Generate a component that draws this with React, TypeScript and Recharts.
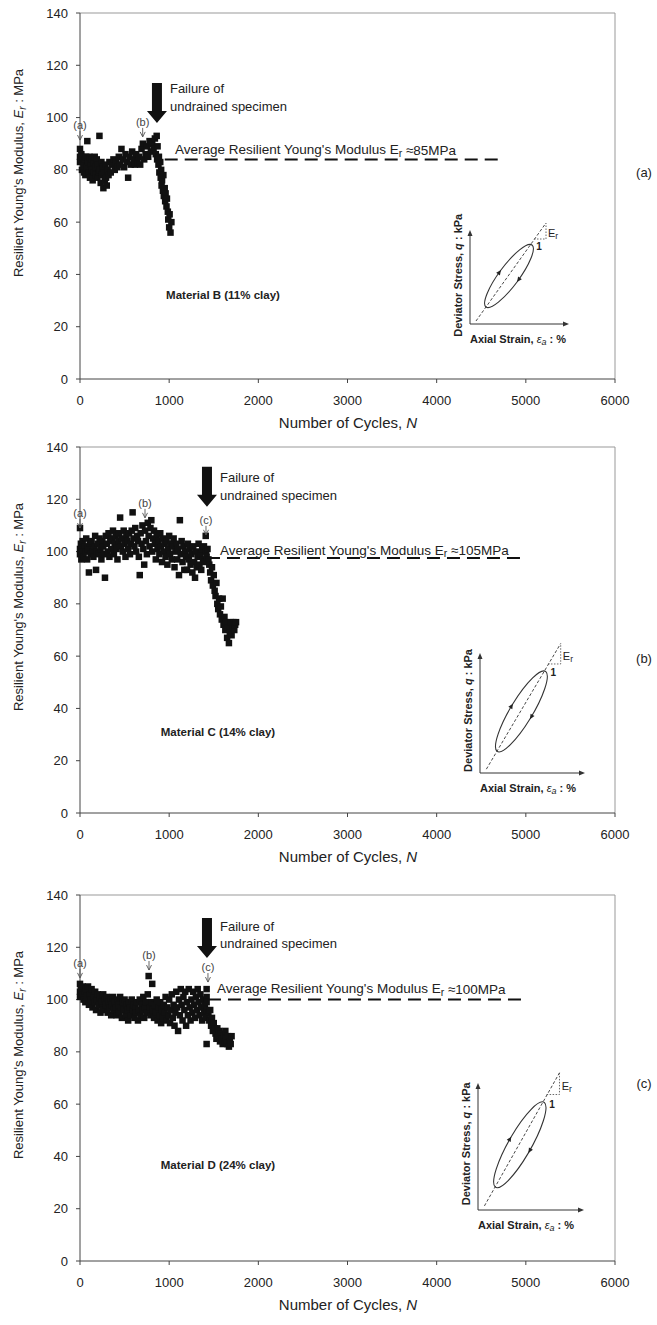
import React from 'react';
import { ScatterChart, Scatter, XAxis, YAxis, ReferenceLine, ReferenceDot } from 'recharts';

const FONT = '"Liberation Sans", Arial, Helvetica, sans-serif';
const W = 657;
const H = 434;

const xTicks = [0, 1000, 2000, 3000, 4000, 5000, 6000];
const yTicks = [0, 20, 40, 60, 80, 100, 120, 140];

// Material B (11% clay)
const cyclesB = [
  0, 0, 0, 8, 15, 22, 30, 38, 45, 52, 60, 68, 75, 82, 90, 98, 105, 112, 120, 128, 135, 142, 150, 158, 165, 172,
  180, 188, 195, 202, 210, 218, 225, 232, 240, 248, 255, 262, 270, 278, 285, 292, 300, 310, 320, 330, 345, 360,
  375, 390, 405, 420, 435, 450, 465, 480, 495, 510, 525, 540, 555, 570, 585, 600, 615, 630, 645, 660, 675, 690,
  705, 720, 735, 750, 765, 780, 795, 810, 825, 840, 850, 860, 865, 870, 880, 885, 890, 900, 905, 910, 915, 920,
  930, 935, 940, 950, 955, 960, 970, 975, 985, 990, 1000, 1005, 1015, 1025,
];
const modulusB = [
  88, 85, 83, 84, 86, 80, 85, 82, 79, 84, 78, 85, 81, 91, 83, 79, 85, 77, 82, 84, 80, 76, 83, 79, 85, 81,
  78, 84, 77, 82, 79, 93, 80, 75, 83, 78, 81, 73, 79, 76, 82, 77, 74, 80, 78, 83, 79, 82,
  84, 80, 83, 81, 85, 82, 88, 84, 81, 86, 83, 77, 85, 82, 87, 84, 82, 86, 83, 85, 82, 88,
  90, 84, 86, 89, 85, 91, 87, 90, 88, 92, 86, 93, 84, 89, 82, 85, 79, 83, 77, 80, 74, 76,
  72, 78, 70, 73, 68, 71, 66, 69, 64, 61, 58, 63, 56, 60,
];

// Material C (14% clay)
const cyclesC = [
  0, 0, 0, 10, 15, 20, 30, 40, 50, 60, 70, 80, 90, 100, 110, 120, 130, 140, 150, 160, 170, 180, 190, 200, 210,
  220, 230, 240, 250, 260, 270, 280, 290, 300, 310, 320, 330, 340, 350, 360, 370, 380, 390, 400, 410, 420, 430,
  440, 450, 460, 470, 480, 490, 500, 510, 520, 530, 540, 550, 560, 570, 580, 590, 600, 610, 620, 630, 640, 650,
  660, 670, 680, 690, 700, 710, 720, 730, 740, 750, 760, 770, 780, 790, 800, 810, 820, 830, 840, 850, 860, 870,
  880, 890, 900, 910, 920, 930, 940, 950, 960, 970, 980, 990, 1000, 1010, 1020, 1030, 1040, 1050, 1060, 1070,
  1080, 1090, 1100, 1110, 1120, 1130, 1140, 1150, 1160, 1170, 1180, 1190, 1200, 1210, 1220, 1230, 1240, 1250,
  1260, 1270, 1280, 1290, 1300, 1310, 1320, 1330, 1340, 1350, 1360, 1370, 1380, 1390, 1400, 1410, 1415, 1420,
  1430, 1440, 1450, 1460, 1470, 1480, 1490, 1500, 1510, 1520, 1530, 1540, 1550, 1560, 1570, 1580, 1590, 1600,
  1610, 1620, 1630, 1640, 1650, 1660, 1670, 1680, 1690, 1700, 1710, 1720, 1730, 1740, 1750,
];
const modulusC = [
  109, 101, 99, 103, 97, 100, 104, 98, 102, 100, 105, 97, 101, 92, 103, 99, 104, 100, 98, 102, 106, 93, 100, 103, 99,
  105, 101, 97, 104, 102, 99, 90, 106, 103, 100, 107, 98, 104, 101, 105, 108, 99, 103, 106, 101, 97, 104,
  107, 113, 102, 105, 100, 108, 103, 98, 106, 104, 101, 107, 99, 103, 108, 115, 105, 102, 109, 100, 106, 104,
  98, 91, 107, 103, 110, 101, 95, 108, 104, 99, 111, 106, 102, 109, 112, 100, 105, 108, 103, 97, 106, 101,
  104, 99, 107, 102, 96, 105, 100, 103, 98, 104, 95, 101, 106, 99, 103, 97, 102, 105, 94, 100,
  103, 97, 101, 91, 112, 99, 104, 96, 102, 93, 100, 98, 93, 103, 97, 101, 95, 99,
  92, 102, 96, 90, 100, 94, 98, 103, 95, 99, 93, 101, 97, 102, 96, 106, 100, 98,
  101, 97, 95, 92, 89, 94, 87, 91, 85, 83, 88, 80, 78, 82, 76, 79, 74, 82,
  72, 75, 70, 73, 67, 71, 65, 69, 73, 68, 71, 73, 70, 72, 73,
];

// Material D (24% clay)
const cyclesD = [
  0, 0, 0, 10, 20, 30, 40, 50, 60, 70, 80, 90, 100, 110, 120, 130, 140, 150, 160, 170, 180, 190, 200, 210, 220,
  230, 240, 250, 260, 270, 280, 290, 300, 310, 320, 330, 340, 350, 360, 370, 380, 390, 400, 410, 420, 430, 440,
  450, 460, 470, 480, 490, 500, 510, 520, 530, 540, 550, 560, 570, 580, 590, 600, 610, 620, 630, 640, 650, 660,
  670, 680, 690, 700, 710, 720, 730, 740, 750, 760, 770, 780, 790, 800, 810, 820, 830, 840, 850, 860, 870, 880,
  890, 900, 910, 920, 930, 940, 950, 960, 970, 980, 990, 1000, 1010, 1020, 1030, 1040, 1050, 1060, 1070, 1080,
  1090, 1100, 1110, 1120, 1130, 1140, 1150, 1160, 1170, 1180, 1190, 1200, 1210, 1220, 1230, 1240, 1250, 1260,
  1270, 1280, 1290, 1300, 1310, 1320, 1330, 1340, 1350, 1360, 1370, 1380, 1390, 1400, 1410, 1420, 1420, 1420,
  1420, 1420, 1440, 1450, 1460, 1470, 1480, 1490, 1500, 1510, 1520, 1530, 1540, 1550, 1560, 1570, 1580, 1590,
  1600, 1610, 1620, 1630, 1640, 1650, 1660, 1670, 1680, 1690, 1700,
];
const modulusD = [
  106, 103, 101, 104, 102, 105, 100, 103, 99, 104, 101, 105, 98, 102, 100, 104, 97, 101, 99, 103, 96, 100, 102, 98, 101,
  95, 99, 97, 102, 96, 100, 98, 101, 95, 99, 97, 100, 94, 98, 101, 96, 99, 97, 94, 100, 98, 95,
  101, 97, 93, 99, 96, 100, 94, 98, 96, 92, 99, 97, 94, 100, 96, 98, 93, 97, 95, 99, 92, 96,
  100, 94, 98, 96, 101, 93, 97, 99, 95, 102, 109, 97, 94, 99, 106, 96, 93, 98, 95, 100, 92, 97,
  94, 99, 91, 96, 93, 98, 95, 101, 92, 97, 94, 100, 91, 96, 102, 93, 98, 90, 95, 103,
  97, 88, 100, 94, 104, 98, 92, 101, 96, 103, 90, 99, 94, 104, 97, 92, 100, 95,
  103, 98, 93, 101, 96, 104, 99, 94, 102, 97, 92, 100, 95, 98, 93, 104, 101, 99,
  96, 83, 95, 92, 96, 90, 93, 88, 91, 89, 87, 85, 89, 86, 88, 84, 87, 85,
  83, 86, 84, 88, 85, 83, 86, 82, 84, 83, 86,
];

const panels = [
  {
    key: 'a', top: 0, cycles: cyclesB, modulus: modulusB,
    avg: 84, avgFrom: 950, avgTo: 4750, avgText: '≈85MPa', avgLabel: [1065, 87.6],
    failure: [863, 97.9], failureDy: [-35, -17],
    marks: [{ t: '(a)', n: 0, e: 91.4 }, { t: '(b)', n: 703, e: 92.6 }],
    material: 'Material B (11% clay)', materialXY: [223, 295], letterY: 172,
    inset: { ox: 470, oy: 324, w: 97, h: 92 },
  },
  {
    key: 'b', top: 434, cycles: cyclesC, modulus: modulusC,
    avg: 97.5, avgFrom: 1424, avgTo: 5000, avgText: '≈105MPa', avgLabel: [1570, 100.6],
    failure: [1424, 117.1], failureDy: [-29, -11],
    marks: [{ t: '(a)', n: 0, e: 109 }, { t: '(b)', n: 729, e: 112.9 }, { t: '(c)', n: 1413, e: 106.4 }],
    material: 'Material C (14% clay)', materialXY: [218, 298], letterY: 224,
    inset: { ox: 480, oy: 339, w: 103, h: 118 },
  },
  {
    key: 'c', top: 882, cycles: cyclesD, modulus: modulusD,
    avg: 100, avgFrom: 1435, avgTo: 5000, avgText: '≈100MPa', avgLabel: [1536, 104.1],
    failure: [1424, 115.9], failureDy: [-32, -15],
    marks: [{ t: '(a)', n: 0, e: 108.3 }, { t: '(b)', n: 774, e: 111.3 }, { t: '(c)', n: 1435, e: 106.7 }],
    material: 'Material D (24% clay)', materialXY: [218, 283], letterY: 201,
    inset: { ox: 478, oy: 328, w: 104, h: 125 },
  },
];

const Square = (props: any) => {
  const { cx, cy } = props;
  if (cx == null || cy == null) return null;
  return <rect x={cx - 3.25} y={cy - 3.25} width={6.5} height={6.5} fill="#111" />;
};

const YTitle = () => (
  <text transform="translate(18,173) rotate(-90)" textAnchor="middle" dominantBaseline="central" fontSize={13} fill="#222">
    {"Resilient Young's Modulus, "}
    <tspan fontStyle="italic">E</tspan>
    <tspan fontStyle="italic" fontSize={10} dy={4}>r</tspan>
    <tspan dy={-4}>{' : MPa'}</tspan>
  </text>
);

const XTitle = () => (
  <text x={348} y={428} textAnchor="middle" fontSize={15} fill="#222">
    {'Number of Cycles, '}
    <tspan fontStyle="italic">N</tspan>
  </text>
);

function tri(x: number, y: number, dx: number, dy: number, len: number, half: number) {
  const l = Math.hypot(dx, dy);
  const ux = dx / l, uy = dy / l;
  const bx = x - ux * len, by = y - uy * len;
  return `${x},${y} ${bx - uy * half},${by + ux * half} ${bx + uy * half},${by - ux * half}`;
}

function Inset({ ox, oy, w, h }: { ox: number; oy: number; w: number; h: number }) {
  const sx = w / 97, sy = h / 92;
  const P = (x: number, y: number) => [ox + x * sx, oy + y * sy];
  const [ax, ay] = P(31, -54);
  const [bx, by] = P(47, -42);
  const [tx1, ty1] = P(64, -85);
  const [tx2, ty2] = P(76, -101);
  const [d1x, d1y] = P(6, -3);
  const [oneX, oneY] = P(69, -78);
  const [erX, erY] = P(78, -91);
  const [dvX, dvY] = [ox - 12, oy - 0.53 * h];
  return (
    <g>
      <line x1={ox} y1={oy} x2={ox} y2={oy - h + 2} stroke="#333" strokeWidth={1} />
      <polygon points={tri(ox, oy - h - 2, 0, -1, 6, 2.5)} fill="#333" />
      <line x1={ox} y1={oy} x2={ox + w - 2} y2={oy} stroke="#333" strokeWidth={1} />
      <polygon points={tri(ox + w + 2, oy, 1, 0, 6, 2.5)} fill="#333" />
      <line x1={d1x} y1={d1y} x2={tx2} y2={ty2} stroke="#333" strokeWidth={0.9} strokeDasharray="3 2" />
      <g transform={`translate(${ox},${oy}) scale(${sx},${sy})`}>
        <ellipse cx={39} cy={-48} rx={38.6} ry={10} transform="rotate(-53.4 39 -48)" fill="none" stroke="#333" strokeWidth={1.1} vectorEffect="non-scaling-stroke" />
      </g>
      <polygon points={tri(ax, ay, 0.596 * sx, -0.803 * sy, 5, 2.3)} fill="#222" />
      <polygon points={tri(bx, by, -0.596 * sx, 0.803 * sy, 5, 2.3)} fill="#222" />
      <polyline points={`${tx1},${ty1} ${tx2},${ty1} ${tx2},${ty2}`} fill="none" stroke="#444" strokeWidth={0.8} strokeDasharray="1.5 1.5" />
      <text x={oneX} y={oneY} textAnchor="middle" dominantBaseline="central" fontSize={10} fontWeight="bold" fill="#222">1</text>
      <text x={erX} y={erY} dominantBaseline="central" fontSize={11} fill="#222">
        E<tspan fontSize={8.5} dy={3}>r</tspan>
      </text>
      <text transform={`translate(${dvX},${dvY}) rotate(-90)`} textAnchor="middle" dominantBaseline="central" fontSize={11} fontWeight="bold" fill="#222">
        {'Deviator Stress, '}
        <tspan fontStyle="italic">q</tspan>
        {' : kPa'}
      </text>
      <text x={ox} y={oy + 15} dominantBaseline="central" fontSize={11} fontWeight="bold" fill="#222">
        {'Axial Strain, '}
        <tspan fontStyle="italic" fontWeight="normal">ε</tspan>
        <tspan fontStyle="italic" fontWeight="normal" fontSize={9} dy={3}>a</tspan>
        <tspan dy={-3}>{' : %'}</tspan>
      </text>
    </g>
  );
}

function Panel({ cfg }: { cfg: any }) {
  const data = cfg.cycles.map((n: number, i: number) => ({ n, e: cfg.modulus[i] }));
  const [dy1, dy2] = cfg.failureDy;
  return (
    <div style={{ position: 'absolute', left: 0, top: cfg.top, width: W, height: H }}>
      <ScatterChart width={W} height={H} margin={{ top: 13, right: 42, bottom: 0, left: 0 }}>
        <XAxis
          type="number" dataKey="n" domain={[0, 6000]} ticks={xTicks} interval={0}
          tickSize={4} tickMargin={13} height={55} stroke="#444"
          tick={{ fill: '#222', fontSize: 13 }} label={<XTitle />}
        />
        <YAxis
          type="number" dataKey="e" domain={[0, 140]} ticks={yTicks} interval={0}
          width={80} tickSize={4} tickMargin={8} stroke="#444"
          tick={{ fill: '#222', fontSize: 13 }} label={<YTitle />}
        />
        <ReferenceLine y={140} stroke="#999" />
        <ReferenceLine x={6000} stroke="#999" />
        <ReferenceLine
          segment={[{ x: cfg.avgFrom, y: cfg.avg }, { x: cfg.avgTo, y: cfg.avg }]}
          stroke="#111" strokeWidth={2} strokeDasharray="13 7"
        />
        <Scatter data={data} shape={Square} isAnimationActive={false} />
        <ReferenceDot
          x={cfg.avgLabel[0]} y={cfg.avgLabel[1]}
          shape={(p: any) => (
            <text x={p.cx} y={p.cy} dominantBaseline="central" fontSize={13.5} fill="#222">
              {"Average Resilient Young's Modulus E"}
              <tspan fontSize={10.5} dy={3}>r</tspan>
              <tspan dy={-3}>{' ' + cfg.avgText}</tspan>
            </text>
          )}
        />
        <ReferenceDot
          x={cfg.failure[0]} y={cfg.failure[1]}
          shape={(p: any) => {
            const { cx, cy } = p;
            return (
              <g>
                <polygon
                  points={`${cx - 5},${cy - 40} ${cx + 5},${cy - 40} ${cx + 5},${cy - 12} ${cx + 10},${cy - 12} ${cx},${cy} ${cx - 10},${cy - 12} ${cx - 5},${cy - 12}`}
                  fill="#111"
                />
                <text x={cx + 13} y={cy + dy1} dominantBaseline="central" fontSize={13} fill="#222">Failure of</text>
                <text x={cx + 13} y={cy + dy2} dominantBaseline="central" fontSize={13} fill="#222">undrained specimen</text>
              </g>
            );
          }}
        />
        {cfg.marks.map((m: any) => (
          <ReferenceDot
            key={m.t} x={m.n} y={m.e}
            shape={(p: any) => {
              const { cx, cy } = p;
              return (
                <g>
                  <text x={cx} y={cy - 15} textAnchor="middle" dominantBaseline="central" fontSize={11} fill="#444">{m.t}</text>
                  <line x1={cx} y1={cy - 9} x2={cx} y2={cy} stroke="#555" strokeWidth={0.9} />
                  <polyline points={`${cx - 2.5},${cy - 5} ${cx},${cy} ${cx + 2.5},${cy - 5}`} fill="none" stroke="#555" strokeWidth={0.9} />
                </g>
              );
            }}
          />
        ))}
      </ScatterChart>
      <svg width={W} height={H} style={{ position: 'absolute', left: 0, top: 0, pointerEvents: 'none' }}>
        <text x={cfg.materialXY[0]} y={cfg.materialXY[1]} textAnchor="middle" dominantBaseline="central" fontSize={11.5} fontWeight="bold" fill="#222">
          {cfg.material}
        </text>
        <text x={644} y={cfg.letterY} textAnchor="middle" dominantBaseline="central" fontSize={13} fill="#222">
          {`(${cfg.key})`}
        </text>
        <Inset {...cfg.inset} />
      </svg>
    </div>
  );
}

export default function App() {
  return (
    <div style={{ position: 'absolute', left: 0, top: 0, width: 657, height: 1325, background: '#fff', fontFamily: FONT }}>
      {panels.map((cfg) => (
        <Panel key={cfg.key} cfg={cfg} />
      ))}
    </div>
  );
}
